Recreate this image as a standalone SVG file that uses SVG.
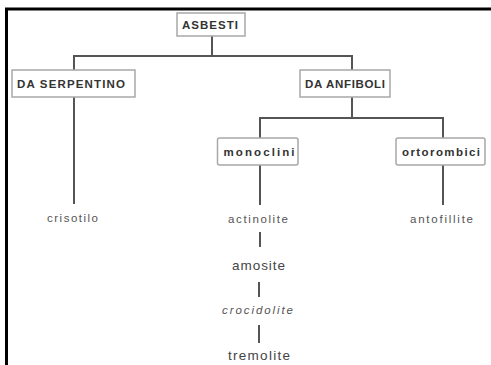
<svg xmlns="http://www.w3.org/2000/svg" width="491" height="365" viewBox="0 0 491 365">
<style>
.frame{stroke:#000;stroke-width:3;fill:none}
.box{fill:#fff;stroke:#a8a8a8;stroke-width:1.5}
.bt{font-family:"Liberation Sans",Arial,sans-serif;font-weight:bold;font-size:11.5px;fill:#333;text-anchor:middle}
.lt{font-family:"Liberation Sans",Arial,sans-serif;font-size:11.5px;fill:#555;text-anchor:middle}
.big{font-size:13.5px;fill:#444}
.con{stroke:#555;stroke-width:2;fill:none}
</style>
<rect width="491" height="365" fill="#fff"/>
<path class="frame" d="M6.5,365 V9 H491"/>
<g id="connectors">
<path class="con" d="M212,36 V56 M74,70 V56 H352 V70"/>
<path class="con" d="M74,97 V204"/>
<path class="con" d="M352,97 V118 M260,138 V118 H443 V138"/>
<path class="con" d="M260,165 V205 M443,165 V205"/>
<path class="con" d="M260,232 V247 M259,282 V297 M259,325 V343"/>
</g>
<g id="asbesti"><rect class="box" x="177" y="13" width="68" height="23"/><text class="bt" x="210" y="28.5" textLength="56" lengthAdjust="spacing">ASBESTI</text></g>
<g id="serpentino"><rect class="box" x="12" y="70" width="123" height="27"/><text class="bt" x="71" y="88" textLength="108" lengthAdjust="spacing">DA SERPENTINO</text></g>
<g id="anfiboli"><rect class="box" x="300" y="70" width="90" height="27"/><text class="bt" x="345" y="88" textLength="80" lengthAdjust="spacing">DA ANFIBOLI</text></g>
<g id="monoclini"><rect class="box" x="217.5" y="138" width="80.5" height="27" rx="2"/><text class="bt" x="259" y="155.5" textLength="71" lengthAdjust="spacing">monoclini</text></g>
<g id="ortorombici"><rect class="box" x="396" y="138" width="89" height="27" rx="2"/><text class="bt" x="441" y="155.5" textLength="78" lengthAdjust="spacing">ortorombici</text></g>
<g id="crisotilo"><text class="lt" x="72.5" y="222" textLength="51" lengthAdjust="spacing">crisotilo</text></g>
<g id="actinolite"><text class="lt" x="258" y="222.5" textLength="60" lengthAdjust="spacing">actinolite</text></g>
<g id="antofillite"><text class="lt" x="441.5" y="222.5" textLength="63" lengthAdjust="spacing">antofillite</text></g>
<g id="amosite"><text class="lt big" x="258.5" y="270" textLength="53" lengthAdjust="spacing">amosite</text></g>
<g id="crocidolite"><text class="lt" x="257.5" y="314" font-style="italic" font-size="10.5" textLength="71" lengthAdjust="spacing">crocidolite</text></g>
<g id="tremolite"><text class="lt big" x="259" y="360" textLength="62" lengthAdjust="spacing">tremolite</text></g>
</svg>
